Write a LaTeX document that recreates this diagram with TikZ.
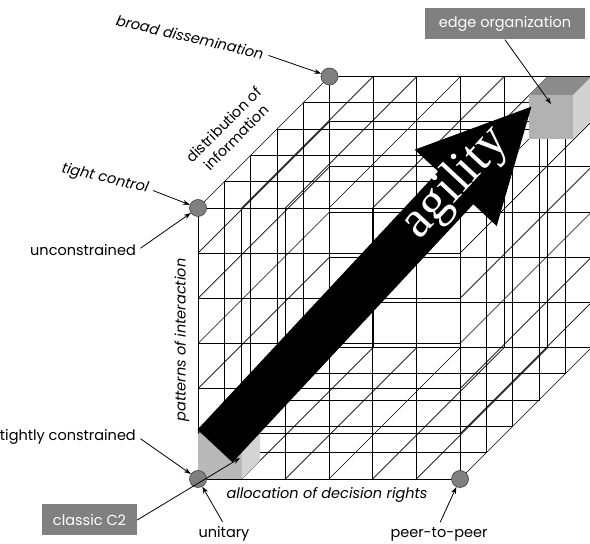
\documentclass[tikz,border=0pt]{standalone}
\usepackage{fontspec}
\setmainfont{Poppins}
\newfontfamily\agilityfont{Liberation Serif}
\usetikzlibrary{arrows.meta, positioning}

\begin{document}
\begin{tikzpicture}[x=1pt, y=1pt,
  font=\fontsize{14.5}{18}\selectfont,
  every node/.style={inner sep=2pt},
  gridline/.style={line width=0.7pt, black},
  slanted/.style={font=\fontsize{14.5}{18}\selectfont\itshape},
  dot/.style={circle, draw=black!75, fill=black!50, line width=0.6pt, minimum size=17pt, inner sep=0pt},
  pointer/.style={-{Stealth[length=7pt, width=5pt]}, line width=0.8pt, shorten <=3pt},
  tagbox/.style={fill=black!50, text=white, inner sep=0pt, minimum width=#1, minimum height=31pt}]

\useasboundingbox (0,0) rectangle (590,544);
\clip (0,0) rectangle (590,544);

% lattice of the approach space
\begin{scope}[shift={(198,65)}, x={(43.667pt,0pt)}, y={(0pt,45.167pt)}, z={(26.3pt,26.3pt)}]
  % front and back faces
  \foreach \k in {0,5}{
    \foreach \i in {0,...,6}
      \draw[gridline] (\i,0,\k) -- (\i,6,\k);
    \foreach \j in {0,...,6}
      \draw[gridline] (0,\j,\k) -- (6,\j,\k);
  }
  % depth layers round the sides
  \foreach \k in {1,...,4}
    \draw[gridline] (0,0,\k) -- (0,6,\k) -- (6,6,\k) -- (6,0,\k) -- cycle;
  % lines running into depth
  \foreach \i in {0,...,6}{
    \draw[gridline] (\i,0,0) -- (\i,0,5);
    \draw[gridline] (\i,6,0) -- (\i,6,5);
  }
  \foreach \j in {1,...,5}{
    \draw[gridline] (0,\j,0) -- (0,\j,5);
    \draw[gridline] (6,\j,0) -- (6,\j,5);
  }
  \coordinate (o-unit) at (0,0,0);
  \coordinate (o-peer) at (6,0,0);
  \coordinate (o-tight) at (0,6,0);
  \coordinate (o-broad) at (0,6,5);
\end{scope}

% small cubes
\fill[black!28] (198,65) rectangle (242,110);
\fill[black!17] (242,65) -- (260,83) -- (260,128) -- (242,110) -- cycle;
\fill[black!40] (198,110) -- (242,110) -- (260,128) -- (216,128) -- cycle;

\fill[black!30] (529,405) rectangle (573,449);
\fill[black!45] (529,449) -- (573,449) -- (591,467) -- (547,467) -- cycle;
\fill[black!18] (573,405) -- (591,423) -- (591,467) -- (573,449) -- cycle;

% agility arrow
\begin{scope}[shift={(215,98)}, rotate=47]
  \fill[black] (0,-24) -- (353,-24) -- (353,-56) -- (464,0) -- (353,56) -- (353,24) -- (0,24) -- cycle;
\end{scope}
\node[rotate=47, text=white, font=\agilityfont\fontsize{52}{52}\selectfont] (agility) at (456,361) {agility};

% corner markers
\node[dot] (c-unit) at (o-unit) {};
\node[dot] (c-peer) at (o-peer) {};
\node[dot] (c-tight) at (o-tight) {};
\node[dot] (c-broad) at (o-broad) {};

% labels
\node[slanted, rotate=-13] (broad) at (190,507) {broad dissemination};
\node[slanted, rotate=-13] (tight) at (105,365) {tight control};
\node (uncon) at (83,294) {unconstrained};
\node[anchor=east] (tightly) at (138,107) {tightly constrained};
\node (unitary) at (224,10) {unitary};
\node (peer) at (439,10) {peer-to-peer};
\node[slanted] (alloc) at (327,49) {allocation of decision rights};
\node[slanted, rotate=90] (patterns) at (182,204) {patterns of interaction};
\node[rotate=45, align=center] (distrib) at (230,413) {distribution of\\information};
\node[tagbox=160pt] (edge) at (505,520) {edge organization};
\node[tagbox=95pt] (classic) at (89.5,24) {classic C2};

\coordinate (classic-cube) at (240,86);
\coordinate (edge-cube) at (551,440);

% pointers
\draw[pointer] (broad.east) -- (c-broad);
\draw[pointer] (tight.east) -- (c-tight);
\draw[pointer] (uncon.east) -- (c-tight);
\draw[pointer] (tightly.east) -- (c-unit);
\draw[pointer] (unitary.north) -- (c-unit);
\draw[pointer] (peer.north) -- (c-peer);
\draw[pointer, shorten <=0pt] (classic.east) -- (classic-cube);
\draw[pointer, shorten <=0pt] (edge.south) -- (edge-cube);

\end{tikzpicture}
\end{document}
